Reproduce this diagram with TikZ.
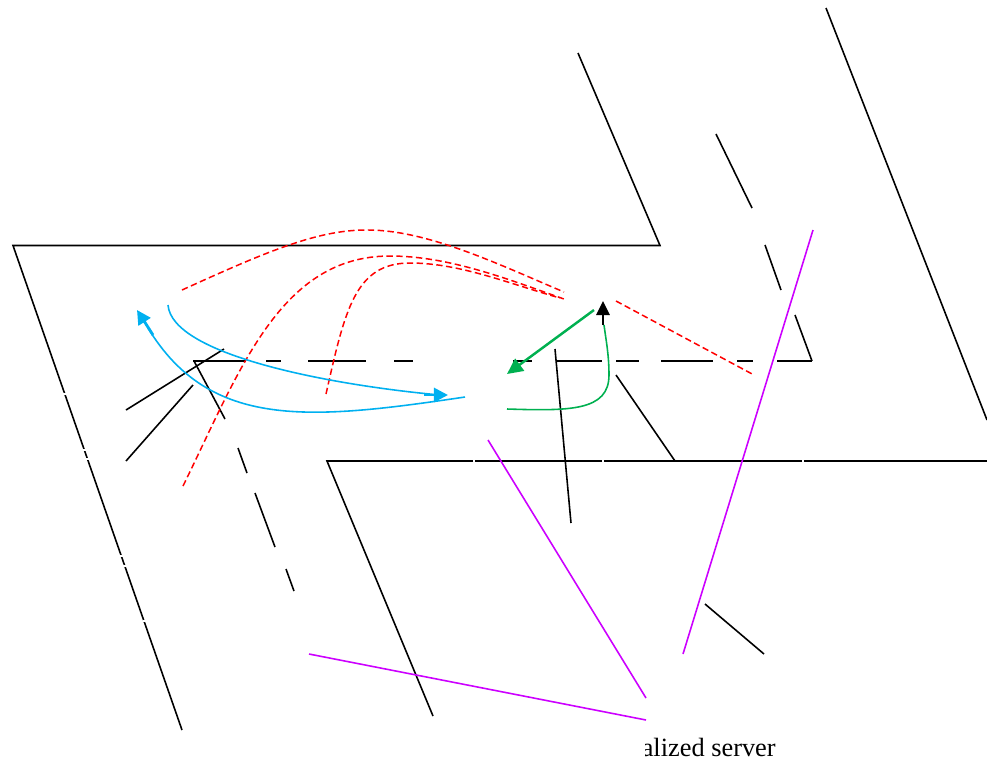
\documentclass[tikz,border=0pt]{standalone}
\usepackage{fontspec}
\setmainfont{Liberation Serif}
\usetikzlibrary{arrows.meta}
\definecolor{linkblue}{RGB}{0,176,240}
\definecolor{linkgreen}{RGB}{0,176,80}
\definecolor{linkpurple}{RGB}{204,0,255}
\tikzset{
  outline/.style={black, line width=0.9pt},
  gapmark/.style={white, line width=1.2pt},
  redlink/.style={red, line width=0.85pt, dash pattern=on 3.6pt off 2pt},
  bluelink/.style={linkblue, line width=0.9pt},
  greenlink/.style={linkgreen, line width=0.9pt},
  purplelink/.style={linkpurple, line width=0.9pt},
  bluestub/.style={linkblue, line width=1.6pt, -{Triangle[length=8pt,width=8pt]}},
}
\begin{document}
\begin{tikzpicture}[x=0.02cm, y=-0.02cm]
  \useasboundingbox (0,0) rectangle (987,762);

  % Outer planes
  \draw[outline] (578,53) -- (660,245.5) -- (13,245.5) -- (182,730);
  \draw[outline] (826,8) -- (987,420);
  \draw[outline] (987,461) -- (327,461) -- (433,716);
  % Small breaks in the plane edges
  \foreach \x/\y in {64/394, 85/450, 88/459, 122/556, 125/566, 145/621}{
    \draw[gapmark] (\x-2,\y) -- (\x+2,\y);
  }
  \foreach \x in {474,603,803}{
    \draw[gapmark] (\x,459) -- (\x,463);
  }

  % Middle plane: broken edges
  \foreach \a/\b in {193/246, 266/281, 308/366, 394/413, 513/532, 556/602, 616/639, 661/713, 737/753, 777/812}{
    \draw[outline] (\a,361) -- (\b,361);
  }
  \draw[outline] (716,134) -- (752,208);
  \draw[outline] (765,245) -- (781,290);
  \draw[outline] (795,315) -- (812,361);
  \draw[outline] (194,361) -- (225,419);
  \draw[outline] (238,448) -- (247,473);
  \draw[outline] (255,493) -- (275,547);
  \draw[outline] (286,569) -- (294,591);

  % Short black links
  \draw[outline] (126,410) -- (224,349);
  \draw[outline] (126,461) -- (193,385);
  \draw[outline] (555,349) -- (571,523);
  \draw[outline] (616,375) -- (675,461);
  \draw[outline] (705,604) -- (764,654);

  % Purple links
  \draw[purplelink] (813,230) -- (683,654);
  \draw[purplelink] (488,440) -- (646,698);
  \draw[purplelink] (309,654) -- (646,720);

  % Red dashed links
  \draw[redlink] (182,290) .. controls (270,250) and (320,229) .. (370,230)
    .. controls (430,231) and (500,265) .. (564,292);
  \draw[redlink] (183,486) .. controls (240,370) and (280,256) .. (390,256)
    .. controls (450,256) and (510,280) .. (564,299);
  \draw[redlink] (326,394) .. controls (345,310) and (355,263) .. (410,263)
    .. controls (460,263) and (510,284) .. (560,298);
  \draw[redlink] (616,301) -- (754,375);

  % Blue links
  \draw[bluelink] (168,305) .. controls (172,355) and (330,385) .. (440,395);
  \draw[bluestub] (424,395) -- (448,395);
  \draw[bluelink] (465,397) .. controls (310,420) and (210,430) .. (148,328);
  \draw[bluestub] (153,335) -- (137,310);

  % Green links
  \draw[greenlink] (507,409) .. controls (570,411) and (609,411) .. (609,375)
    .. controls (609,355) and (606,340) .. (604,325);
  \draw[linkgreen, line width=1.4pt, -{Triangle[length=9pt,width=8.5pt]}] (594,310) -- (507,374);
  \draw[black, line width=1.4pt, -{Triangle[length=8pt,width=7.5pt]}] (603,325) -- (603,301);

  % Label, cut off on its left
  \begin{scope}
    \clip (645,725) rectangle (987,762);
    \node[anchor=base east, inner sep=0pt, font=\fontsize{15}{18}\selectfont] (serverlabel) at (776,756) {alized server};
  \end{scope}
\end{tikzpicture}
\end{document}
